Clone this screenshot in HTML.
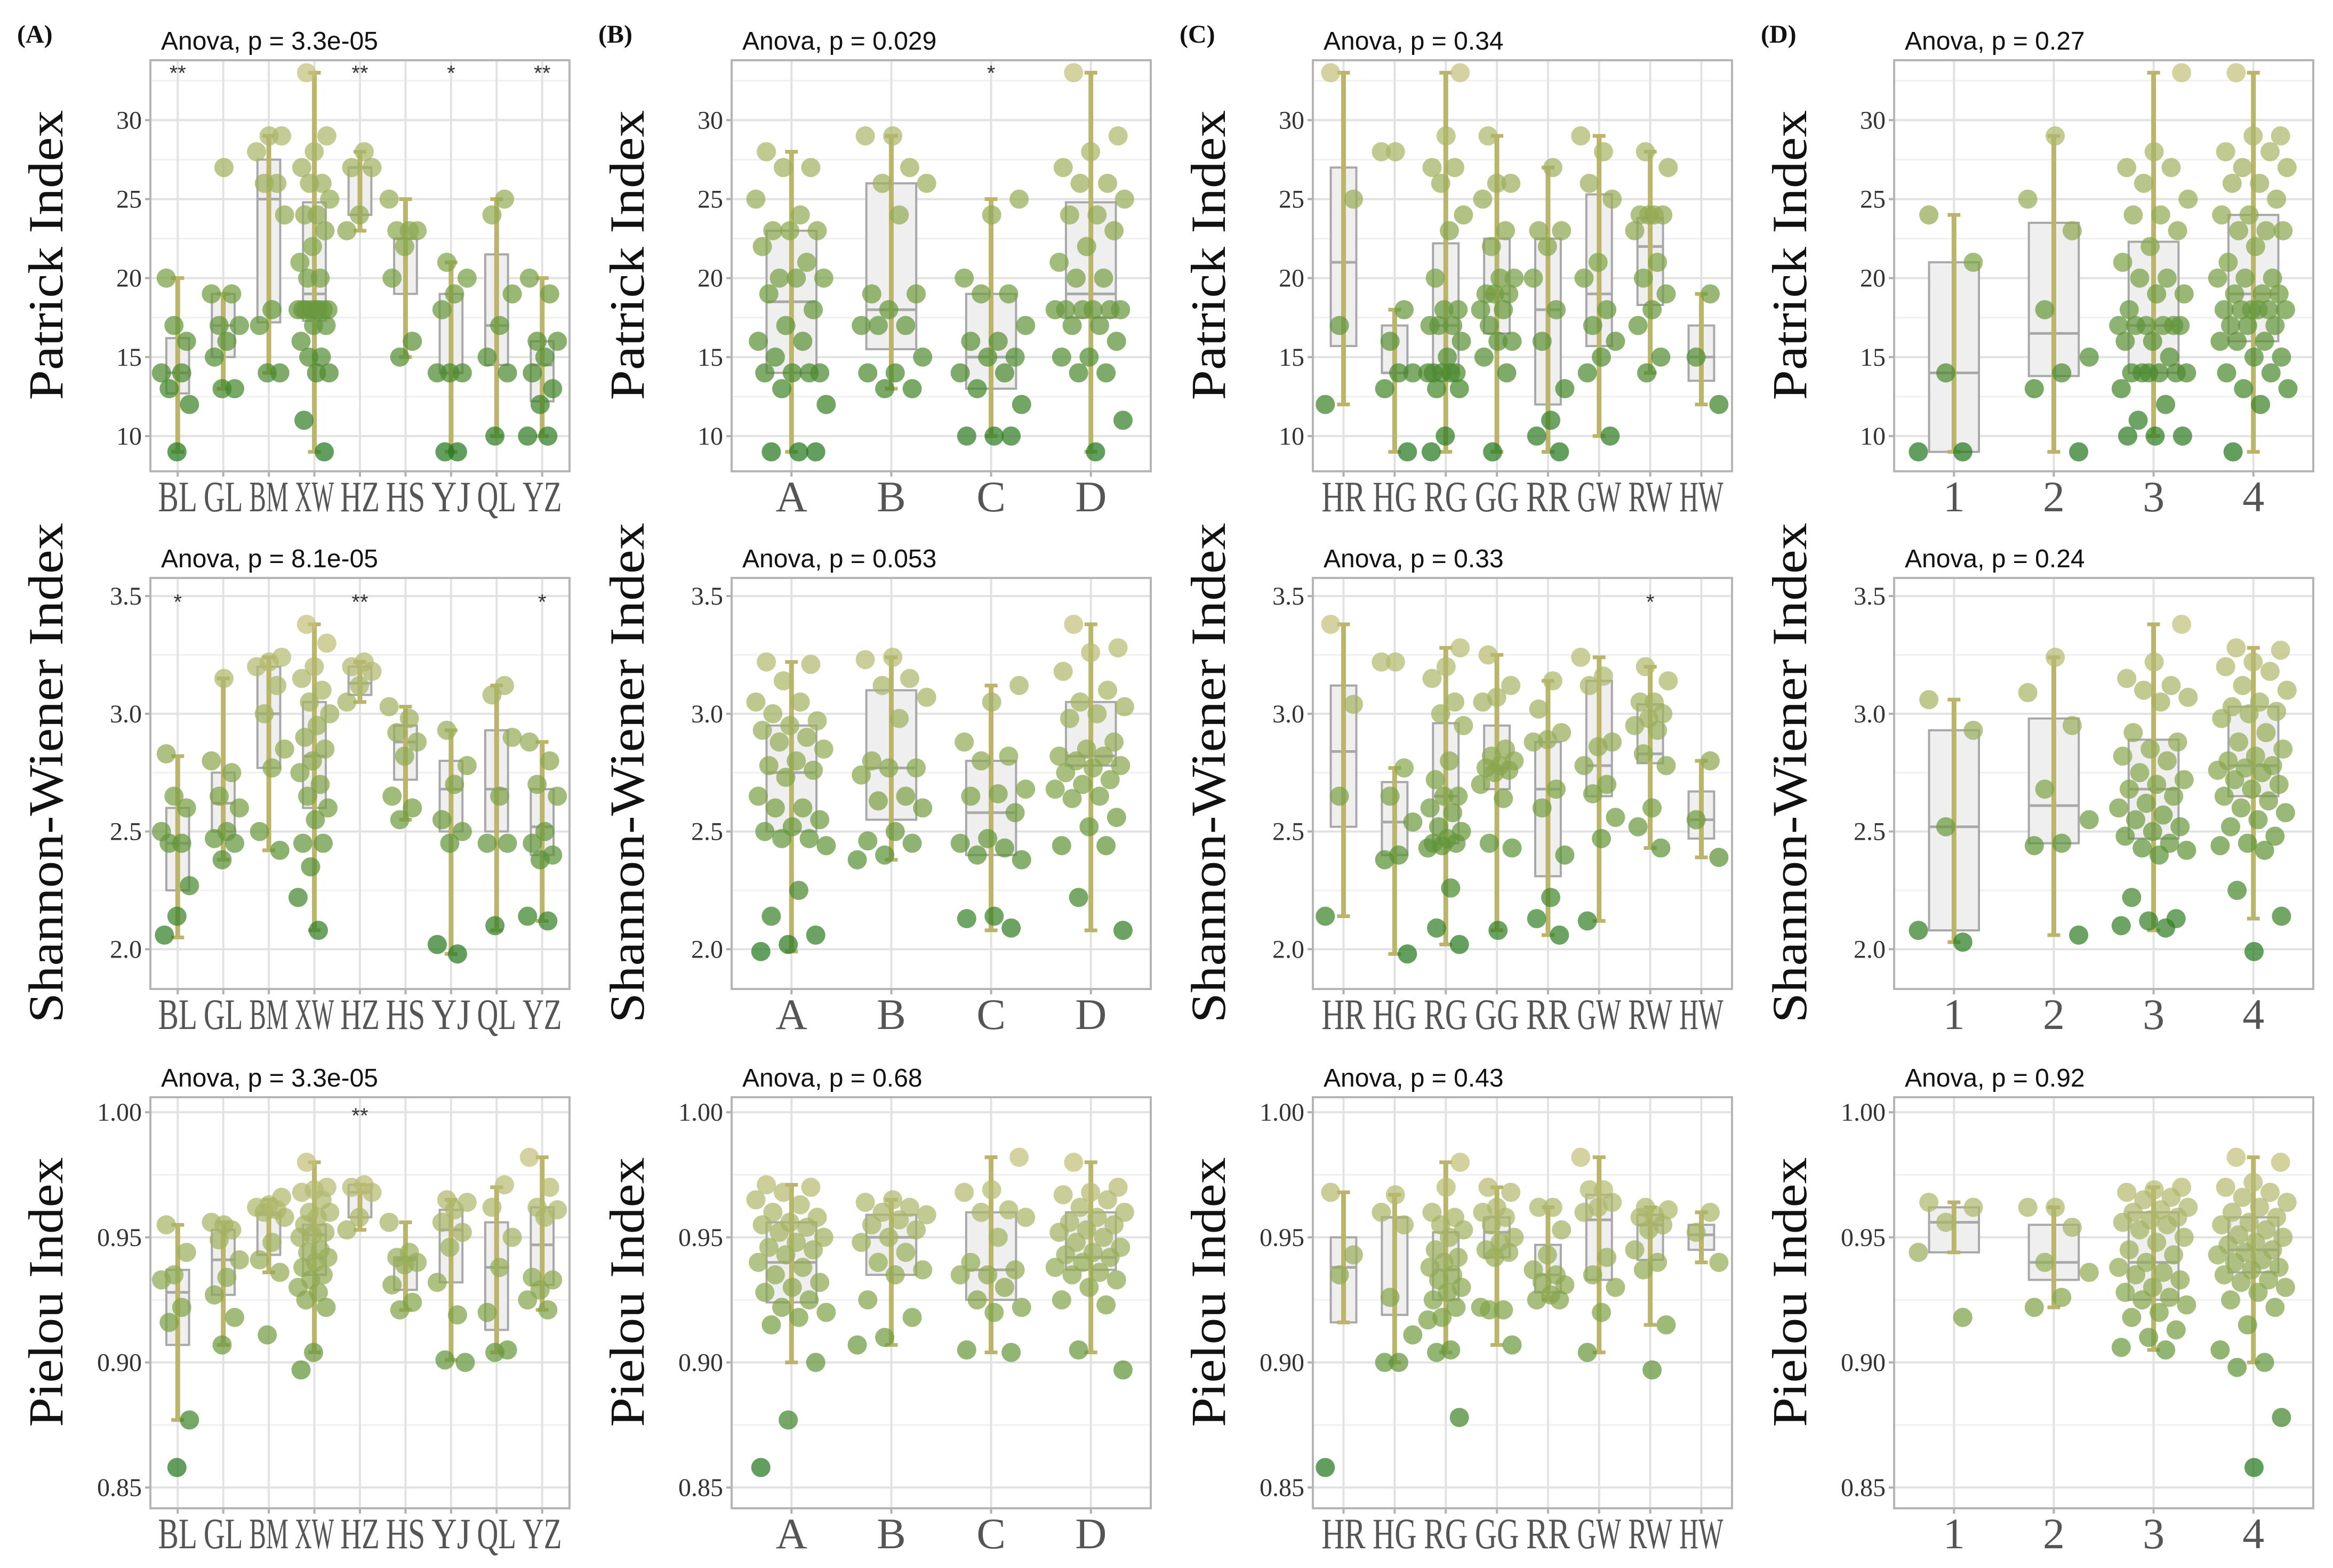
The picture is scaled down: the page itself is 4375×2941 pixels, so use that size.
<!DOCTYPE html>
<html><head><meta charset="utf-8"><title>Diversity index boxplots</title>
<style>html,body{margin:0;padding:0;background:#fff}svg{display:block}</style></head>
<body>
<svg id="fig" xmlns="http://www.w3.org/2000/svg" width="4375" height="2941" viewBox="0 0 4375 2941"></svg>
<script>
// ===== Data =====
const catsA = ["BL","GL","BM","XW","HZ","HS","YJ","QL","YZ"];
const catsB = ["A","B","C","D"];
const catsC = ["HR","HG","RG","GG","RR","GW","RW","HW"];
const catsD = ["1","2","3","4"];
const yTitles = ["Patrick Index","Shannon-Wiener Index","Pielou Index"];
const pvalA = ["3.3e-05","8.1e-05","3.3e-05"];
const pvalB = ["0.029","0.053","0.68"];
const pvalC = ["0.34","0.33","0.43"];
const pvalD = ["0.27","0.24","0.92"];
const ticksPatrick = [10,15,20,25,30];
const ticksShannon = [2.0,2.5,3.0,3.5];
const ticksPielou = [0.85,0.90,0.95,1.00];

// Panel A (site)
const A1_pts = [[20,16,17,14,14,13,12,9],[27,19,19,17,17,16,15,13,13],[29,29,28,26,26,24,18,17,14,14],[33,29,28,27,26,26,25,24,24,23,22,21,20,20,18,18,18,18,18,18,18,18,17,17,16,15,15,14,14,11,9],[28,27,27,24,23],[25,23,23,23,22,20,16,15],[21,20,19,18,14,14,14,9,9],[25,24,19,17,15,14,10],[20,19,16,16,15,14,13,12,10,10]];
const A1_box = [[12.7,14,16.2],[15,17,19],[17.2,25,27.5],[17.3,19,24.8],[24,27,27],[19,22.5,22.5],[14,14,19],[14.5,17,21.5],[12.2,14.5,16]];
const A1_whisk = [[9,20],[13,19],[14,29],[9,33],[23,28],[15,25],[9,21],[10,25],[10,20]];
const A1_stars = ["**","","","","**","","*","","**"];
const A2_pts = [[2.83,2.6,2.65,2.5,2.45,2.45,2.27,2.14,2.06],[3.15,2.8,2.75,2.65,2.6,2.5,2.47,2.45,2.38],[3.24,3.22,3.2,3.12,3.0,2.85,2.77,2.5,2.42],[3.38,3.3,3.2,3.15,3.1,3.05,3.0,2.95,2.9,2.85,2.8,2.75,2.7,2.65,2.6,2.55,2.45,2.45,2.35,2.22,2.08],[3.22,3.2,3.18,3.12,3.05],[3.03,2.98,2.92,2.88,2.82,2.65,2.6,2.55],[2.93,2.78,2.7,2.55,2.5,2.45,2.02,1.98],[3.12,3.08,2.9,2.65,2.45,2.45,2.1],[2.88,2.8,2.7,2.65,2.5,2.45,2.4,2.38,2.14,2.12]];
const A2_box = [[2.25,2.45,2.6],[2.5,2.62,2.75],[2.77,3.0,3.2],[2.6,2.82,3.05],[3.08,3.13,3.2],[2.72,2.88,2.95],[2.5,2.68,2.8],[2.5,2.68,2.93],[2.4,2.52,2.68]];
const A2_whisk = [[2.05,2.82],[2.38,3.15],[2.42,3.24],[2.08,3.38],[3.05,3.22],[2.55,3.03],[1.98,2.93],[2.08,3.12],[2.12,2.88]];
const A2_stars = ["*","","","","**","","","","*"];
const A3_pts = [[0.955,0.944,0.935,0.933,0.922,0.916,0.877,0.858],[0.955,0.956,0.953,0.949,0.941,0.934,0.927,0.918,0.907],[0.966,0.963,0.962,0.961,0.96,0.958,0.948,0.941,0.936,0.911],[0.98,0.97,0.969,0.968,0.965,0.96,0.96,0.958,0.955,0.952,0.951,0.95,0.945,0.944,0.942,0.94,0.938,0.935,0.933,0.93,0.928,0.925,0.922,0.904,0.897],[0.971,0.97,0.968,0.958,0.953],[0.956,0.944,0.942,0.94,0.939,0.931,0.924,0.921],[0.965,0.964,0.961,0.956,0.952,0.946,0.932,0.919,0.901,0.9],[0.971,0.962,0.95,0.938,0.92,0.905,0.904],[0.982,0.97,0.962,0.961,0.958,0.934,0.933,0.929,0.925,0.921]];
const A3_box = [[0.907,0.928,0.937],[0.927,0.941,0.953],[0.943,0.959,0.96],[0.935,0.951,0.955],[0.958,0.968,0.971],[0.929,0.941,0.942],[0.932,0.953,0.961],[0.913,0.938,0.956],[0.931,0.947,0.962]];
const A3_whisk = [[0.877,0.955],[0.907,0.956],[0.936,0.965],[0.904,0.98],[0.953,0.971],[0.921,0.956],[0.901,0.965],[0.904,0.97],[0.921,0.982]];
const A3_stars = ["","","","","**","","","",""];

// Panel B
const B1_pts = [[28,27,27,25,24,23,23,23,22,21,20,20,20,19,18,17,16,16,15,14,14,14,14,13,12,9,9,9],[29,29,27,26,26,24,19,19,18,17,17,17,15,14,14,13,13],[25,24,20,19,19,17,16,16,15,15,14,14,13,12,10,10,10],[33,29,28,27,26,26,25,24,24,23,22,21,20,20,18,18,18,18,18,18,17,17,16,15,15,14,14,11,9]];
const B1_box = [[14,18.5,23],[15.5,18,26],[13,15,19],[17.5,19,24.8]];
const B1_whisk = [[9,28],[13,29],[10,25],[9,33]];
const B1_stars = ["","","*",""];
const B2_pts = [[3.22,3.21,3.14,3.05,3.05,3.0,2.97,2.95,2.93,2.9,2.88,2.85,2.8,2.78,2.76,2.73,2.65,2.6,2.6,2.55,2.52,2.5,2.47,2.47,2.44,2.25,2.14,2.06,2.02,1.99],[3.24,3.23,3.15,3.12,3.07,2.98,2.8,2.77,2.77,2.74,2.65,2.63,2.6,2.5,2.46,2.45,2.4,2.38],[3.12,3.05,2.88,2.82,2.8,2.68,2.66,2.65,2.58,2.47,2.45,2.43,2.4,2.38,2.14,2.13,2.09],[3.38,3.28,3.26,3.18,3.1,3.05,3.03,3.0,2.98,2.88,2.85,2.82,2.82,2.8,2.78,2.77,2.75,2.72,2.7,2.68,2.65,2.64,2.56,2.52,2.44,2.44,2.22,2.08]];
const B2_box = [[2.5,2.75,2.95],[2.55,2.77,3.1],[2.4,2.58,2.8],[2.78,2.82,3.05]];
const B2_whisk = [[1.99,3.22],[2.38,3.24],[2.08,3.12],[2.08,3.38]];
const B2_stars = ["","","",""];
const B3_pts = [[0.971,0.97,0.968,0.965,0.963,0.96,0.958,0.956,0.955,0.954,0.952,0.95,0.948,0.946,0.945,0.943,0.94,0.938,0.935,0.932,0.93,0.928,0.925,0.922,0.92,0.918,0.915,0.9,0.877,0.858],[0.965,0.964,0.962,0.96,0.959,0.957,0.955,0.953,0.95,0.948,0.944,0.94,0.937,0.935,0.925,0.918,0.91,0.907],[0.982,0.969,0.968,0.961,0.96,0.958,0.95,0.94,0.937,0.935,0.935,0.93,0.925,0.922,0.92,0.905,0.904],[0.98,0.97,0.968,0.967,0.965,0.962,0.96,0.958,0.956,0.955,0.953,0.952,0.95,0.948,0.946,0.944,0.943,0.942,0.94,0.938,0.936,0.935,0.933,0.93,0.925,0.923,0.905,0.897]];
const B3_box = [[0.924,0.94,0.956],[0.935,0.95,0.959],[0.925,0.937,0.96],[0.937,0.942,0.96]];
const B3_whisk = [[0.9,0.971],[0.907,0.965],[0.904,0.982],[0.904,0.98]];
const B3_stars = ["","","",""];

// Panel C
const C1_pts = [[33,25,17,12],[28,28,18,16,14,14,13,9],[33,29,27,27,26,24,23,20,18,18,17,17,17,16,15,14,14,14,14,14,13,13,10,9],[29,26,26,25,23,22,20,20,19,19,19,18,18,17,16,16,15,14,9],[27,23,23,22,20,18,16,13,11,10,9],[29,28,26,25,21,20,18,17,16,15,14,10],[28,27,24,24,24,24,23,21,20,19,18,17,15,14],[19,15,12]];
const C1_box = [[15.7,21,27],[14,14,17],[14,17,22.2],[16.5,19,22.5],[12,18,22.5],[15.7,19,25.3],[18.3,22,23.8],[13.5,15,17]];
const C1_whisk = [[12,33],[9,18],[9,33],[9,29],[9,27],[10,29],[14,28],[12,19]];
const C1_stars = ["","","","","","","",""];
const C2_pts = [[3.38,3.04,2.65,2.14],[3.22,3.22,2.77,2.65,2.54,2.4,2.38,1.98],[3.28,3.2,3.15,3.05,3.0,2.95,2.8,2.72,2.65,2.65,2.6,2.58,2.52,2.5,2.47,2.45,2.45,2.44,2.43,2.26,2.09,2.02],[3.25,3.12,3.07,3.05,2.85,2.82,2.8,2.78,2.77,2.76,2.75,2.7,2.64,2.45,2.43,2.08],[3.14,3.02,2.92,2.89,2.88,2.68,2.6,2.4,2.22,2.13,2.06],[3.24,3.16,3.12,2.88,2.86,2.78,2.7,2.66,2.56,2.47,2.12],[3.2,3.14,3.05,3.05,3.0,2.98,2.95,2.93,2.83,2.78,2.6,2.52,2.43],[2.8,2.55,2.39]];
const C2_box = [[2.52,2.84,3.12],[2.4,2.54,2.71],[2.45,2.65,2.96],[2.68,2.77,2.95],[2.31,2.68,2.88],[2.65,2.78,3.14],[2.79,2.83,3.04],[2.47,2.55,2.67]];
const C2_whisk = [[2.14,3.38],[1.98,2.77],[2.02,3.28],[2.08,3.25],[2.06,3.14],[2.12,3.24],[2.43,3.2],[2.39,2.8]];
const C2_stars = ["","","","","","","*",""];
const C3_pts = [[0.968,0.943,0.935,0.858],[0.967,0.96,0.955,0.926,0.911,0.9,0.9],[0.98,0.97,0.96,0.958,0.955,0.953,0.95,0.945,0.942,0.94,0.938,0.935,0.933,0.93,0.928,0.925,0.922,0.918,0.917,0.905,0.904,0.878],[0.97,0.968,0.962,0.96,0.958,0.955,0.95,0.948,0.945,0.944,0.942,0.922,0.921,0.921,0.907],[0.962,0.962,0.953,0.943,0.937,0.935,0.932,0.931,0.927,0.925,0.925],[0.982,0.969,0.969,0.964,0.962,0.96,0.942,0.935,0.93,0.92,0.904],[0.962,0.961,0.959,0.958,0.955,0.953,0.945,0.94,0.937,0.915,0.897],[0.96,0.952,0.94]];
const C3_box = [[0.916,0.938,0.95],[0.919,0.958,0.958],[0.925,0.937,0.952],[0.942,0.952,0.958],[0.928,0.935,0.947],[0.933,0.957,0.967],[0.941,0.955,0.959],[0.945,0.951,0.955]];
const C3_whisk = [[0.916,0.968],[0.9,0.967],[0.904,0.98],[0.907,0.97],[0.925,0.962],[0.904,0.982],[0.915,0.962],[0.94,0.96]];
const C3_stars = ["","","","","","","",""];

// Panel D
const D1_pts = [[24,21,14,9,9],[29,25,23,18,15,14,13,9],[33,28,27,27,26,25,24,24,23,22,21,20,20,19,19,18,17,17,17,17,17,17,16,16,15,14,14,14,14,14,14,13,12,11,10,10,10],[33,29,29,28,28,27,27,26,26,25,24,24,23,23,23,22,21,20,20,20,19,19,19,18,18,18,18,18,18,17,17,17,16,16,16,15,15,14,14,13,13,12,9]];
const D1_box = [[9,14,21],[13.8,16.5,23.5],[14,17,22.3],[16,19,24]];
const D1_whisk = [[9,24],[9,29],[10,33],[9,33]];
const D1_stars = ["","","",""];
const D2_pts = [[3.06,2.93,2.52,2.08,2.03],[3.24,3.09,2.95,2.68,2.55,2.45,2.44,2.06],[3.38,3.22,3.15,3.12,3.1,3.07,3.05,2.92,2.88,2.85,2.82,2.8,2.75,2.72,2.7,2.68,2.65,2.62,2.6,2.57,2.55,2.52,2.5,2.48,2.45,2.43,2.42,2.4,2.22,2.13,2.12,2.1,2.09],[3.28,3.27,3.22,3.2,3.18,3.12,3.1,3.05,3.03,3.01,3.0,2.98,2.92,2.88,2.85,2.82,2.8,2.78,2.77,2.76,2.75,2.72,2.7,2.68,2.65,2.63,2.6,2.58,2.55,2.52,2.48,2.45,2.44,2.42,2.25,2.14,1.99]];
const D2_box = [[2.08,2.52,2.93],[2.45,2.61,2.98],[2.47,2.68,2.89],[2.65,2.78,3.03]];
const D2_whisk = [[2.03,3.06],[2.06,3.24],[2.08,3.38],[2.13,3.28]];
const D2_stars = ["","","",""];
const D3_pts = [[0.964,0.962,0.956,0.944,0.918],[0.962,0.962,0.954,0.94,0.936,0.926,0.922],[0.97,0.969,0.968,0.966,0.965,0.962,0.961,0.96,0.958,0.957,0.956,0.955,0.953,0.95,0.948,0.945,0.943,0.94,0.938,0.936,0.935,0.933,0.93,0.928,0.926,0.925,0.923,0.92,0.918,0.913,0.91,0.906,0.905],[0.982,0.98,0.972,0.97,0.968,0.966,0.964,0.962,0.96,0.958,0.956,0.955,0.953,0.951,0.95,0.948,0.947,0.945,0.944,0.943,0.941,0.94,0.938,0.937,0.935,0.933,0.932,0.93,0.928,0.925,0.922,0.915,0.905,0.9,0.898,0.878,0.858]];
const D3_box = [[0.944,0.956,0.962],[0.933,0.94,0.955],[0.925,0.94,0.96],[0.936,0.945,0.958]];
const D3_whisk = [[0.944,0.964],[0.922,0.962],[0.905,0.97],[0.9,0.982]];
const D3_stars = ["","","",""];

// ===== Drawing =====
const NS = "http://www.w3.org/2000/svg";
const svg = document.getElementById("fig");
function mk(tag, attrs, parent) {
  const e = document.createElementNS(NS, tag);
  for (const k in attrs) e.setAttribute(k, attrs[k]);
  (parent || svg).appendChild(e);
  return e;
}
const rowCfg = [
  {top:113, vmin:7.77, vmax:33.79, ticks:ticksPatrick, step:5, dec:0, starV:33.2, cmin:9, cmax:33},
  {top:1084, vmin:1.831, vmax:3.577, ticks:ticksShannon, step:0.5, dec:1, starV:3.49, cmin:1.98, cmax:3.38},
  {top:2058, vmin:0.8417, vmax:1.006, ticks:ticksPielou, step:0.05, dec:2, starV:1.0, cmin:0.858, cmax:0.982}
];
const PH = 771, PW = 786;
function lerp(a,b,t){return a+(b-a)*t;}
function ptColor(t){
  const s0=[38,122,32], s1=[128,163,72], s2=[196,193,124];
  let a,b,u; if(t<0.5){a=s0;b=s1;u=t/0.5;}else{a=s1;b=s2;u=(t-0.5)/0.5;}
  return "rgb("+Math.round(lerp(a[0],b[0],u))+","+Math.round(lerp(a[1],b[1],u))+","+Math.round(lerp(a[2],b[2],u))+")";
}
function drawPanel(col,row,letter,cats,pts,box,whisk,stars,pval){
  const cfg=rowCfg[row];
  const L=282+col*1090, T=cfg.top, R=L+PW, B=T+PH;
  const yScale=v=>B-(v-cfg.vmin)/(cfg.vmax-cfg.vmin)*PH;
  const n=cats.length, sp=PW/(n-1+1.2);
  const xScale=i=>L+(i+0.6)*sp;
  const g=mk("g",{});
  
  
  for(let k=0;k<=cfg.ticks.length;k++){
    const v=cfg.ticks[0]+(k-0.5)*cfg.step;
    if(v<=cfg.vmin||v>=cfg.vmax) continue;
    const ln=mk("line",{x1:L,x2:R,y1:yScale(v),y2:yScale(v),stroke:"#f0f0f0","stroke-width":3},g);
    
    
  }
  cfg.ticks.forEach(v=>{
    const y=yScale(v);
    const ln=mk("line",{x1:L,x2:R,y1:y,y2:y,stroke:"#e2e2e2","stroke-width":4},g);
    
    
    const tk=mk("line",{x1:L-10,x2:L,y1:y,y2:y,stroke:"#b0b0b0","stroke-width":4},g);
    
    
    const tx=mk("text",{x:L-16,y:y+16,"text-anchor":"end","font-family":"Liberation Serif, serif","font-size":48,fill:"#333"},g);
    tx.textContent=v.toFixed(cfg.dec);
    
    
  });
  cats.forEach((c,i)=>{
    const x=xScale(i);
    const ln=mk("line",{x1:x,x2:x,y1:T,y2:B,stroke:"#e2e2e2","stroke-width":4},g);
    
    
    const tk=mk("line",{x1:x,x2:x,y1:B,y2:B+10,stroke:"#b0b0b0","stroke-width":4},g);
    
    
    const attrs={x:x,y:B+75,"text-anchor":"middle","font-family":"Liberation Serif, serif","font-size":82,fill:"#555"};
    if(c.length>1){attrs.textLength=(sp*0.86).toFixed(1);attrs.lengthAdjust="spacingAndGlyphs";}
    const tx=mk("text",attrs,g);
    tx.textContent=c;
    
    
  });
  const bw=sp*0.5;
  cats.forEach((c,i)=>{
    const x=xScale(i), b=box[i], w=whisk[i];
    const r=mk("rect",{x:x-bw/2,y:yScale(b[2]),width:bw,height:Math.max(1,yScale(b[0])-yScale(b[2])),fill:"#efefef",stroke:"#a8a8a8","stroke-width":4},g);
    
    
    const md=mk("line",{x1:x-bw/2,x2:x+bw/2,y1:yScale(b[1]),y2:yScale(b[1]),stroke:"#a8a8a8","stroke-width":5},g);
    
    
    const wl=mk("line",{x1:x,x2:x,y1:yScale(w[0]),y2:yScale(w[1]),stroke:"#bab56a","stroke-width":9},g);
    
    
    [w[0],w[1]].forEach(v=>{
      const cp=mk("line",{x1:x-12,x2:x+12,y1:yScale(v),y2:yScale(v),stroke:"#bab56a","stroke-width":7},g);
      
      
    });
  });
  cats.forEach((c,i)=>{
    const x=xScale(i);
    pts[i].forEach((v,k)=>{
      const j=((k*0.6180339+i*0.37+0.15)%1)*2-1;
      const t=Math.max(0,Math.min(1,(v-cfg.cmin)/(cfg.cmax-cfg.cmin)));
      const p=mk("circle",{cx:x+j*sp*0.36,cy:yScale(v),r:18,fill:ptColor(t),"fill-opacity":0.72},g);
      
      
    });
    if(stars[i]){
      const st=mk("text",{x:x,y:yScale(cfg.starV)+20,"text-anchor":"middle","font-family":"Liberation Sans, sans-serif","font-size":40,fill:"#333"},g);
      st.textContent=stars[i];
      
      
    }
  });
  const fr=mk("rect",{x:L,y:T,width:PW,height:PH,fill:"none",stroke:"#b5b5b5","stroke-width":4},g);
  
  
  const tt=mk("text",{x:L+20,y:T-20,"font-family":"Liberation Sans, sans-serif","font-size":48,fill:"#111"},g);
  tt.textContent="Anova, p = "+pval;
  
  
  const yLens=[544,938,506];
  const cy=T+PH/2-20;
  const yt=mk("text",{x:0,y:0,transform:"translate("+(L-165)+","+cy+") rotate(-90)","text-anchor":"middle","font-family":"Liberation Serif, serif","font-size":92,fill:"#111",textLength:yLens[row],lengthAdjust:"spacingAndGlyphs"},g);
  yt.textContent=yTitles[row];
  
  
  if(row===0){
    const pl=mk("text",{x:L-250,y:80,"font-family":"Liberation Serif, serif","font-size":48,"font-weight":"bold",fill:"#111"},g);
    pl.textContent="("+letter+")";
    
    
  }
}
drawPanel(0,0,"A",catsA,A1_pts,A1_box,A1_whisk,A1_stars,pvalA[0]);
drawPanel(0,1,"A",catsA,A2_pts,A2_box,A2_whisk,A2_stars,pvalA[1]);
drawPanel(0,2,"A",catsA,A3_pts,A3_box,A3_whisk,A3_stars,pvalA[2]);
drawPanel(1,0,"B",catsB,B1_pts,B1_box,B1_whisk,B1_stars,pvalB[0]);
drawPanel(1,1,"B",catsB,B2_pts,B2_box,B2_whisk,B2_stars,pvalB[1]);
drawPanel(1,2,"B",catsB,B3_pts,B3_box,B3_whisk,B3_stars,pvalB[2]);
drawPanel(2,0,"C",catsC,C1_pts,C1_box,C1_whisk,C1_stars,pvalC[0]);
drawPanel(2,1,"C",catsC,C2_pts,C2_box,C2_whisk,C2_stars,pvalC[1]);
drawPanel(2,2,"C",catsC,C3_pts,C3_box,C3_whisk,C3_stars,pvalC[2]);
drawPanel(3,0,"D",catsD,D1_pts,D1_box,D1_whisk,D1_stars,pvalD[0]);
drawPanel(3,1,"D",catsD,D2_pts,D2_box,D2_whisk,D2_stars,pvalD[1]);
drawPanel(3,2,"D",catsD,D3_pts,D3_box,D3_whisk,D3_stars,pvalD[2]);
</script>
</body></html>
